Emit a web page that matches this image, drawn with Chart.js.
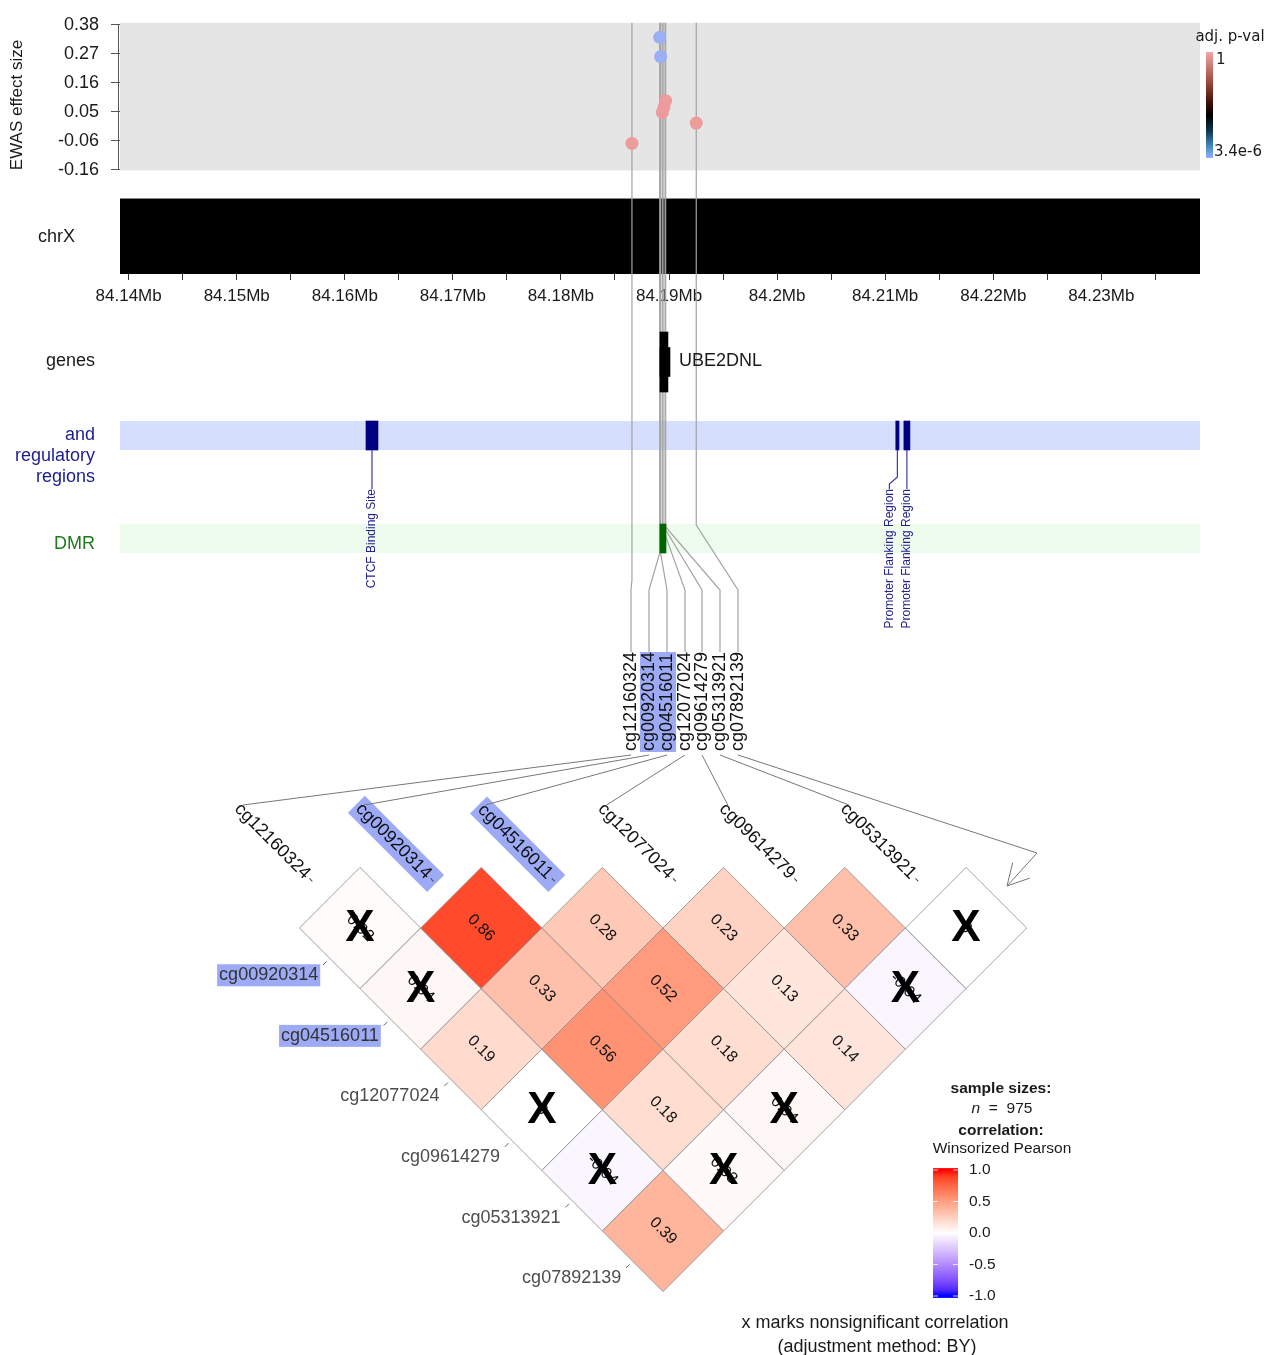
<!DOCTYPE html>
<html lang="en">
<head>
<meta charset="UTF-8">
<title>EWAS region plot</title>
<script src="https://cdn.jsdelivr.net/npm/chart.js"></script>
<style>
  body { margin: 0; background: #fff; }
  #wrap { position: relative; width: 1266px; height: 1355px; }
  canvas { position: absolute; left: 0; }
</style>
</head>
<body>
<div id="wrap">
  <canvas id="ewas" width="1266" height="310" style="top:0"></canvas>
  <canvas id="tracks" width="1266" height="450" style="top:310px"></canvas>
  <canvas id="corr" width="1266" height="615" style="top:740px"></canvas>
</div>
<script>
// ---- data ----
const cpgNames = ['cg12160324', 'cg00920314', 'cg04516011', 'cg12077024', 'cg09614279', 'cg05313921', 'cg07892139'];
const cpgPos = [84.18657, 84.18914, 84.18922, 84.18938, 84.18953, 84.18969, 84.19252];   // Mb
const effSize = [-0.065, 0.332, 0.260, 0.051, 0.070, 0.095, 0.011];
const adjP = [1, 3.4e-6, 3.4e-6, 1, 1, 1, 1];
const highlighted = [false, true, true, false, false, false, false];

const effTicks = [-0.164, -0.0554, 0.0532, 0.1618, 0.2704, 0.379];
const mbTicks = [84.14, 84.145, 84.15, 84.155, 84.16, 84.165, 84.17, 84.175, 84.18, 84.185,
                 84.19, 84.195, 84.2, 84.205, 84.21, 84.215, 84.22, 84.225, 84.23, 84.235];
const mbLabels = ['84.14Mb', '', '84.15Mb', '', '84.16Mb', '', '84.17Mb', '', '84.18Mb', '',
                  '84.19Mb', '', '84.2Mb', '', '84.21Mb', '', '84.22Mb', '', '84.23Mb', ''];

const geneName = 'UBE2DNL';
const geneStart = 84.18916, geneEnd = 84.18990;
const exonStart = 84.18916, exonEnd = 84.19009;

const regStart = [84.16196, 84.21098, 84.21173];
const regEnd = [84.16307, 84.21128, 84.21229];
const regLabels = ['CTCF Binding Site', 'Promoter Flanking Region', 'Promoter Flanking Region'];

const dmrStart = 84.18916, dmrEnd = 84.18972;

// lower triangle: row u = cpg u+1, column v = cpg v
const corrRows = [
  [0.02],
  [0.04, 0.86],
  [0.19, 0.33, 0.28],
  [0, 0.56, 0.52, 0.23],
  [-0.04, 0.18, 0.18, 0.13, 0.33],
  [0.39, 0.03, 0.04, 0.14, -0.04, 0]
];
const corrSig = [
  [0],
  [0, 1],
  [1, 1, 1],
  [0, 1, 1, 1],
  [0, 1, 1, 1, 1],
  [1, 0, 0, 1, 0, 0]
];
const corrTicks = [1, 0.5, 0, -0.5, -1];
const sampleSize = 975;

// ---- layout / style ----
const FONT = "'Liberation Sans', Arial, sans-serif";
const X_MIN = 84.1392, X_MAX = 84.23913;
const LABEL_X = [631, 649, 667, 685, 702, 720, 738];
const BEND_Y = [580, 553, 553, 527, 527, 527, 525];
const HILITE = '#9dabf6';
const LINE = '#a3a3a3';
Chart.defaults.font.family = FONT;
Chart.defaults.color = '#222';

function mix(c1, c2, t) {
  return c1.map((c, k) => Math.round(c + (c2[k] - c) * t));
}
function pColor(p) {
  const t = Math.log10(p) / Math.log10(3.4e-6);
  const [r, g, b] = mix([236, 156, 156], [155, 175, 246], t);
  return `rgb(${r},${g},${b})`;
}
function labToRgb(L, A, B) {
  const fy = (L + 16) / 116, fx = fy + A / 500, fz = fy - B / 200;
  const f = t => t * t * t > 0.008856 ? t * t * t : (t - 16 / 116) / 7.787;
  const X = 0.95047 * f(fx), Y = f(fy), Z = 1.08883 * f(fz);
  const lin = [3.2406 * X - 1.5372 * Y - 0.4986 * Z, -0.9689 * X + 1.8758 * Y + 0.0415 * Z, 0.0557 * X - 0.2040 * Y + 1.0570 * Z];
  return lin.map(c => {
    c = c <= 0.0031308 ? 12.92 * c : 1.055 * Math.pow(c, 1 / 2.4) - 0.055;
    return Math.round(Math.max(0, Math.min(1, c)) * 255);
  });
}
function corrColor(v) {
  const end = v >= 0 ? [53.24, 80.09, 67.20] : [32.30, 79.19, -107.86];
  const t = Math.min(1, Math.abs(v));
  const [r, g, b] = labToRgb(100 + (end[0] - 100) * t, end[1] * t, end[2] * t);
  return `rgb(${r},${g},${b})`;
}

// ================= top panel: EWAS effect sizes + chromosome axis =================
const ewasDecor = {
  id: 'ewasDecor',
  beforeDatasetsDraw(chart) {
    const {ctx, chartArea: a, scales: {x, y}} = chart;
    ctx.save();
    const panelBottom = y.getPixelForValue(-0.166);
    ctx.fillStyle = '#e5e5e5';
    ctx.fillRect(a.left, a.top, a.right - a.left, panelBottom - a.top);
    // y axis line
    ctx.strokeStyle = '#555';
    ctx.lineWidth = 1;
    ctx.beginPath();
    ctx.moveTo(a.left - 1.5, y.getPixelForValue(effTicks[effTicks.length - 1]));
    ctx.lineTo(a.left - 1.5, y.getPixelForValue(effTicks[0]));
    ctx.stroke();
    // axis title
    ctx.translate(17, 105);
    ctx.rotate(-Math.PI / 2);
    ctx.font = `17px ${FONT}`;
    ctx.fillStyle = '#1a1a1a';
    ctx.textAlign = 'center';
    ctx.textBaseline = 'middle';
    ctx.fillText('EWAS effect size', 0, 0);
    ctx.setTransform(1, 0, 0, 1, 0, 0);
    // chromosome band
    ctx.fillStyle = '#000';
    ctx.fillRect(a.left, a.bottom - 75, a.right - a.left, 75);
    ctx.strokeStyle = '#888';
    ctx.beginPath();
    ctx.moveTo(a.left, a.bottom - 75.5);
    ctx.lineTo(a.right, a.bottom - 75.5);
    ctx.stroke();
    ctx.fillStyle = '#1a1a1a';
    ctx.font = `18px ${FONT}`;
    ctx.textAlign = 'right';
    ctx.fillText('chrX', 75, a.bottom - 37);
    // connector lines to the CpG labels
    ctx.strokeStyle = LINE;
    ctx.lineWidth = 1.2;
    cpgPos.forEach(pos => {
      const px = x.getPixelForValue(pos);
      ctx.beginPath();
      ctx.moveTo(px, a.top);
      ctx.lineTo(px, chart.height);
      ctx.stroke();
    });
    ctx.restore();
  },
  afterDraw(chart) {
    const {ctx} = chart;
    ctx.save();
    ctx.font = "15px 'DejaVu Sans', sans-serif";
    ctx.fillStyle = '#1a1a1a';
    ctx.textAlign = 'center';
    ctx.textBaseline = 'middle';
    ctx.fillText('adj. p-val', 1230, 37);
    const g = ctx.createLinearGradient(0, 52, 0, 158);
    g.addColorStop(0, '#f4a6a6');
    g.addColorStop(0.28, '#a04a3c');
    g.addColorStop(0.48, '#3c1008');
    g.addColorStop(0.6, '#000000');
    g.addColorStop(0.75, '#103a52');
    g.addColorStop(0.9, '#4a90c8');
    g.addColorStop(1, '#93b0f8');
    ctx.fillStyle = g;
    ctx.fillRect(1206, 52, 7, 106);
    ctx.fillStyle = '#1a1a1a';
    ctx.textAlign = 'left';
    ctx.fillText('1', 1216, 60);
    ctx.fillText('3.4e-6', 1214, 152);
    ctx.restore();
  }
};

new Chart(document.getElementById('ewas'), {
  type: 'scatter',
  data: {
    datasets: [{
      data: cpgPos.map((p, i) => ({x: p, y: effSize[i]})),
      pointBackgroundColor: adjP.map(pColor),
      pointBorderWidth: 0,
      pointRadius: 6.5
    }]
  },
  options: {
    responsive: false,
    animation: false,
    layout: {padding: {top: 22, right: 66, left: 0, bottom: 0}},
    scales: {
      x: {
        type: 'linear', min: X_MIN, max: X_MAX,
        afterFit(scale) { scale.height = 36; },
        afterBuildTicks(scale) { scale.ticks = mbTicks.map(v => ({value: v})); },
        ticks: {
          autoSkip: false, maxRotation: 0, padding: 6,
          font: {size: 17}, color: '#1a1a1a',
          callback: (v, i) => mbLabels[i]
        },
        grid: {drawOnChartArea: false, tickLength: 6, color: '#333'},
        border: {display: false}
      },
      y: {
        type: 'linear', min: -0.55398, max: 0.38646,
        afterFit(scale) { scale.width = 120; },
        afterBuildTicks(scale) { scale.ticks = effTicks.map(v => ({value: v})); },
        ticks: {
          autoSkip: false, padding: 12,
          font: {size: 18}, color: '#1a1a1a',
          callback: v => v.toFixed(2)
        },
        grid: {drawOnChartArea: false, tickLength: 9, color: '#555'},
        border: {display: false}
      }
    },
    plugins: {legend: {display: false}, tooltip: {enabled: false}}
  },
  plugins: [ewasDecor]
});

// ================= annotation tracks =================
const GENE_Y = 362, REG_Y = 435.5, DMR_Y = 538.5;

const trackDecor = {
  id: 'trackDecor',
  beforeDatasetsDraw(chart) {
    const {ctx, chartArea: a, scales: {x, y}} = chart;
    const P = v => y.getPixelForValue(v);
    ctx.save();
    ctx.fillStyle = '#d5defc';
    ctx.fillRect(a.left, P(421), a.right - a.left, P(450) - P(421));
    ctx.fillStyle = '#eefcee';
    ctx.fillRect(a.left, P(524), a.right - a.left, P(553) - P(524));
    ctx.textAlign = 'right';
    ctx.textBaseline = 'middle';
    ctx.font = `18px ${FONT}`;
    ctx.fillStyle = '#1a1a1a';
    ctx.fillText('genes', 95, P(361));
    ctx.fillStyle = '#1c1c8e';
    ['and', 'regulatory', 'regions'].forEach((t, k) => ctx.fillText(t, 95, P(435 + 21 * k)));
    ctx.fillStyle = '#1d7a1d';
    ctx.fillText('DMR', 95, P(544));
    // connector lines continue down to the labels
    ctx.strokeStyle = LINE;
    ctx.lineWidth = 1.2;
    cpgPos.forEach((pos, i) => {
      const px = x.getPixelForValue(pos);
      ctx.beginPath();
      ctx.moveTo(px, 0);
      ctx.lineTo(px, P(BEND_Y[i]));
      ctx.lineTo(LABEL_X[i], P(590));
      ctx.lineTo(LABEL_X[i], P(652));
      ctx.stroke();
    });
    ctx.restore();
  },
  afterDatasetsDraw(chart) {
    const {ctx, scales: {x, y}} = chart;
    const P = v => y.getPixelForValue(v);
    ctx.save();
    ctx.font = `18px ${FONT}`;
    ctx.fillStyle = '#1a1a1a';
    ctx.textBaseline = 'middle';
    ctx.textAlign = 'left';
    ctx.fillText(geneName, 679, P(361));
    // regulatory feature labels
    const offs = [0, -8, 0];
    ctx.strokeStyle = '#3a3a9c';
    ctx.lineWidth = 1.2;
    ctx.font = `12px ${FONT}`;
    regStart.forEach((s, i) => {
      const cx = (x.getPixelForValue(s) + x.getPixelForValue(regEnd[i])) / 2;
      const lx = cx + offs[i];
      ctx.beginPath();
      ctx.moveTo(cx, P(450));
      ctx.lineTo(cx, P(offs[i] ? 477 : 489));
      ctx.lineTo(lx, P(offs[i] ? 484 : 489));
      ctx.lineTo(lx, P(489));
      ctx.stroke();
      ctx.save();
      ctx.translate(lx, P(489));
      ctx.rotate(-Math.PI / 2);
      ctx.fillStyle = '#22228c';
      ctx.textAlign = 'right';
      ctx.fillText(regLabels[i], 0, 0);
      ctx.restore();
    });
    // CpG names
    ctx.fillStyle = HILITE;
    const hi = LABEL_X.filter((_, i) => highlighted[i]);
    ctx.fillRect(Math.min(...hi) - 9, P(652), Math.max(...hi) - Math.min(...hi) + 18, P(752) - P(652));
    ctx.font = `18px ${FONT}`;
    cpgNames.forEach((name, i) => {
      ctx.save();
      ctx.translate(LABEL_X[i], P(751));
      ctx.rotate(-Math.PI / 2);
      ctx.fillStyle = '#111';
      ctx.textAlign = 'left';
      ctx.fillText(name, 0, 0);
      ctx.restore();
    });
    ctx.restore();
  }
};

new Chart(document.getElementById('tracks'), {
  type: 'bar',
  data: {
    datasets: [
      {stack: 'tracks', data: [{x: [geneStart, geneEnd], y: GENE_Y}], backgroundColor: '#000', barThickness: 60},
      {stack: 'tracks', data: [{x: [exonStart, exonEnd], y: GENE_Y}], backgroundColor: '#000', barThickness: 29},
      {stack: 'tracks', data: regStart.map((s, i) => ({x: [s, regEnd[i]], y: REG_Y})), backgroundColor: '#000080', barThickness: 29},
      {stack: 'tracks', data: [{x: [dmrStart, dmrEnd], y: DMR_Y}], backgroundColor: '#006400', barThickness: 29}
    ]
  },
  options: {
    indexAxis: 'y',
    responsive: false,
    animation: false,
    layout: {padding: {left: 120, right: 66, top: 0, bottom: 0}},
    datasets: {bar: {borderWidth: 0, borderSkipped: false}},
    scales: {
      x: {type: 'linear', min: X_MIN, max: X_MAX, stacked: false, offset: false, display: false},
      y: {type: 'linear', min: 310, max: 760, reverse: true, offset: false, display: false}
    },
    plugins: {legend: {display: false}, tooltip: {enabled: false}}
  },
  plugins: [trackDecor]
});

// ================= correlation heatmap (rotated 45 degrees) =================
const TOP = 740;
const cells = [];
corrRows.forEach((row, u) => row.forEach((val, v) => {
  cells.push({x: u + v, y: u - v, val, sig: corrSig[u][v]});
}));

function cellRadius(chart) {
  const sx = chart.scales.x;
  return sx ? Math.abs(sx.getPixelForValue(1) - sx.getPixelForValue(0)) : 60.6;
}

const corrDecor = {
  id: 'corrDecor',
  afterDatasetsDraw(chart) {
    const {ctx, scales: {x, y}} = chart;
    const meta = chart.getDatasetMeta(0);
    ctx.save();
    ctx.textAlign = 'center';
    ctx.textBaseline = 'middle';
    // values and X marks
    meta.data.forEach((el, i) => {
      const c = cells[i];
      ctx.save();
      ctx.translate(el.x, el.y);
      ctx.rotate(Math.PI / 4);
      ctx.font = `16px ${FONT}`;
      ctx.fillStyle = '#111';
      ctx.fillText(c.val === 0 ? '0' : c.val.toFixed(2), 0, 0);
      ctx.restore();
      if (!c.sig) {
        ctx.font = `bold 44px ${FONT}`;
        ctx.fillStyle = '#000';
        ctx.fillText('X', el.x, el.y + 1);
      }
    });
    // column labels
    ctx.font = `18px ${FONT}`;
    const anchors = [];
    for (let v = 0; v < cpgNames.length - 1; v++) {
      const ax = x.getPixelForValue(2 * v - 0.776), ay = y.getPixelForValue(-0.759);
      anchors.push([ax, ay]);
      const name = cpgNames[v];
      const w = ctx.measureText(name).width;
      ctx.save();
      ctx.translate(ax, ay);
      ctx.rotate(Math.PI / 4);
      if (highlighted[v]) {
        ctx.fillStyle = HILITE;
        ctx.fillRect(-8 - w - 3, -12, w + 13, 24);
      }
      ctx.fillStyle = '#111';
      ctx.textAlign = 'right';
      ctx.fillText(name, -8, 0);
      ctx.strokeStyle = '#444';
      ctx.lineWidth = 1;
      ctx.beginPath();
      ctx.moveTo(-5, 0);
      ctx.lineTo(-1, 0);
      ctx.stroke();
      ctx.restore();
    }
    // row labels
    ctx.textAlign = 'right';
    for (let u = 0; u < cpgNames.length - 1; u++) {
      const name = cpgNames[u + 1];
      const tx = x.getPixelForValue(u - 0.69), ty = y.getPixelForValue(u + 0.78);
      const w = ctx.measureText(name).width;
      if (highlighted[u + 1]) {
        ctx.fillStyle = HILITE;
        ctx.fillRect(tx - w - 2, ty - 11, w + 4, 22);
      }
      ctx.fillStyle = highlighted[u + 1] ? '#333' : '#4d4d4d';
      ctx.fillText(name, tx, ty);
      ctx.strokeStyle = '#666';
      ctx.lineWidth = 1;
      ctx.beginPath();
      ctx.moveTo(x.getPixelForValue(u - 0.55), y.getPixelForValue(u + 0.55));
      ctx.lineTo(x.getPixelForValue(u - 0.61), y.getPixelForValue(u + 0.61));
      ctx.stroke();
    }
    // connectors from the CpG name list to the heatmap columns
    ctx.strokeStyle = '#777';
    ctx.lineWidth = 1;
    cpgNames.forEach((_, i) => {
      ctx.beginPath();
      ctx.moveTo(LABEL_X[i], 755 - TOP);
      if (i < anchors.length) {
        ctx.lineTo(anchors[i][0] - 70, anchors[i][1] - 77);
      } else {
        const tip = [1007, 886 - TOP], from = [1037, 853 - TOP];
        ctx.lineTo(from[0], from[1]);
        ctx.lineTo(tip[0], tip[1]);
        const ang = Math.atan2(tip[1] - from[1], tip[0] - from[0]);
        [-0.5, 0.5].forEach(d => {
          ctx.moveTo(tip[0], tip[1]);
          ctx.lineTo(tip[0] - 24 * Math.cos(ang + d), tip[1] - 24 * Math.sin(ang + d));
        });
      }
      ctx.stroke();
    });
    // legend
    ctx.fillStyle = '#1a1a1a';
    ctx.textAlign = 'center';
    ctx.font = `bold 15.5px ${FONT}`;
    ctx.fillText('sample sizes:', 1001, 1089 - TOP);
    ctx.fillText('correlation:', 1001, 1131 - TOP);
    ctx.font = `15.5px ${FONT}`;
    ctx.fillText('Winsorized Pearson', 1002, 1149 - TOP);
    const rest = '  =  ' + sampleSize;
    ctx.font = `italic 15.5px ${FONT}`;
    const wn = ctx.measureText('n').width;
    ctx.font = `15.5px ${FONT}`;
    const wr = ctx.measureText(rest).width;
    const sx = 1002 - (wn + wr) / 2;
    ctx.textAlign = 'left';
    ctx.font = `italic 15.5px ${FONT}`;
    ctx.fillText('n', sx, 1109 - TOP);
    ctx.font = `15.5px ${FONT}`;
    ctx.fillText(rest, sx + wn, 1109 - TOP);
    // colour bar
    const vy = v => 1233 - TOP - v * 63;
    const g = ctx.createLinearGradient(0, vy(1.03), 0, vy(-1.03));
    for (let k = 0; k <= 20; k++) {
      const v = 1 - k / 10;
      g.addColorStop((vy(v) - vy(1.03)) / (vy(-1.03) - vy(1.03)), corrColor(v));
    }
    ctx.fillStyle = g;
    ctx.fillRect(933, vy(1.03), 25, vy(-1.03) - vy(1.03));
    ctx.strokeStyle = 'rgba(255,255,255,0.8)';
    corrTicks.forEach(v => {
      ctx.beginPath();
      ctx.moveTo(933, vy(v)); ctx.lineTo(938, vy(v));
      ctx.moveTo(953, vy(v)); ctx.lineTo(958, vy(v));
      ctx.stroke();
    });
    ctx.fillStyle = '#1a1a1a';
    ctx.font = `15.5px ${FONT}`;
    corrTicks.forEach(v => ctx.fillText(v.toFixed(1), 969, vy(v)));
    // footnote
    ctx.textAlign = 'center';
    ctx.font = `18px ${FONT}`;
    ctx.fillText('x marks nonsignificant correlation', 875, 1323 - TOP);
    ctx.fillText('(adjustment method: BY)', 877, 1347 - TOP);
    ctx.restore();
  }
};

new Chart(document.getElementById('corr'), {
  type: 'scatter',
  data: {
    datasets: [{
      data: cells,
      pointStyle: 'rectRot',
      pointRadius: ctx => cellRadius(ctx.chart),
      pointBackgroundColor: cells.map(c => corrColor(c.val)),
      pointBorderColor: '#8a8a8a',
      pointBorderWidth: 0.8,
      showLine: false
    }]
  },
  options: {
    responsive: false,
    animation: false,
    layout: {padding: 0},
    scales: {
      x: {type: 'linear', min: -5.941, max: 14.950, display: false},
      y: {type: 'linear', min: -3.1023, max: 7.0462, reverse: true, display: false}
    },
    plugins: {legend: {display: false}, tooltip: {enabled: false}}
  },
  plugins: [corrDecor]
});
</script>
</body>
</html>
